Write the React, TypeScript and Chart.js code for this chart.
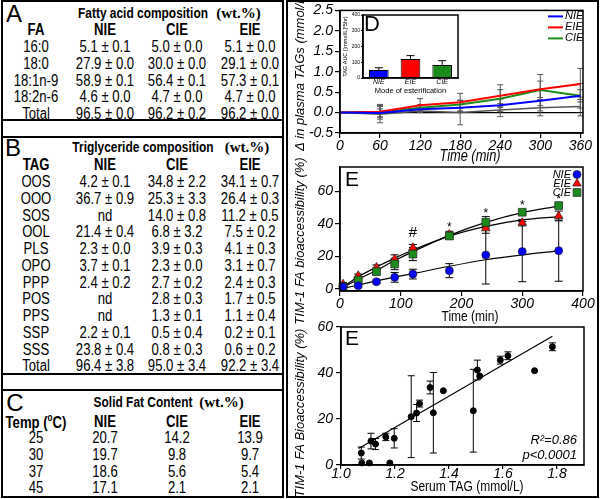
import React, { useEffect, useRef } from 'react';
import { Chart, registerables } from 'chart.js';

Chart.register(...registerables);
Chart.defaults.color = '#000';

// ---------- Table A: fatty acid composition (wt.%) ----------
const faNames = ['16:0', '18:0', '18:1n-9', '18:2n-6', 'Total'];
const faNIE = ['5.1 ± 0.1', '27.9 ± 0.0', '58.9 ± 0.1', '4.6 ± 0.0', '96.5 ± 0.0'];
const faCIE = ['5.0 ± 0.0', '30.0 ± 0.0', '56.4 ± 0.1', '4.7 ± 0.0', '96.2 ± 0.2'];
const faEIE = ['5.1 ± 0.0', '29.1 ± 0.0', '57.3 ± 0.1', '4.7 ± 0.0', '96.2 ± 0.0'];

// ---------- Table B: triglyceride composition (wt.%) ----------
const tagNames = ['OOS', 'OOO', 'SOS', 'OOL', 'PLS', 'OPO', 'PPP', 'POS', 'PPS', 'SSP', 'SSS', 'Total'];
const tagNIE = ['4.2 ± 0.1', '36.7 ± 0.9', 'nd', '21.4 ± 0.4', '2.3 ± 0.0', '3.7 ± 0.1', '2.4 ± 0.2', 'nd', 'nd', '2.2 ± 0.1', '23.8 ± 0.4', '96.4 ± 3.8'];
const tagCIE = ['34.8 ± 2.2', '25.3 ± 3.3', '14.0 ± 0.8', '6.8 ± 3.2', '3.9 ± 0.3', '2.3 ± 0.0', '2.7 ± 0.2', '2.8 ± 0.3', '1.3 ± 0.1', '0.5 ± 0.4', '0.8 ± 0.3', '95.0 ± 3.4'];
const tagEIE = ['34.1 ± 0.7', '26.4 ± 0.3', '11.2 ± 0.5', '7.5 ± 0.2', '4.1 ± 0.3', '3.1 ± 0.7', '2.4 ± 0.3', '1.7 ± 0.5', '1.1 ± 0.4', '0.2 ± 0.1', '0.6 ± 0.2', '92.2 ± 3.4'];

// ---------- Table C: solid fat content (wt.%) ----------
const sfcTemps = ['25', '30', '37', '45'];
const sfcNIE = ['20.7', '19.7', '18.6', '17.1'];
const sfcCIE = ['14.2', '9.8', '5.6', '2.1'];
const sfcEIE = ['13.9', '9.7', '5.4', '2.1'];

// ---------- D: change in plasma TAGs (mmol/L) ----------
const plasmaTime = [0, 60, 120, 180, 240, 300, 360];
const plasmaNIE = [0, -0.01, 0.08, 0.12, 0.18, 0.29, 0.41];
const plasmaEIE = [0, 0.02, 0.18, 0.25, 0.41, 0.57, 0.7];
const plasmaCIE = [0, 0.02, 0.12, 0.2, 0.34, 0.55, 0.41];
const plasmaRef = [0, -0.04, 0.04, 0.0, 0.06, 0.12, 0.15];
const plasmaErrNIE = [0, 0.1, 0.05, 0.08, 0.15, 0.25, 0.3];
const plasmaErrEIE = [0, 0.18, 0.16, 0.22, 0.27, 0.2, 0.38];
const plasmaErrCIE = [0, 0.13, 0.08, 0.1, 0.22, 0.38, 0.15];
const plasmaErrRef = [0, 0.21, 0.04, 0.3, 0.16, 0.2, 0.23];
const plasmaTimeTicks = [0, 60, 120, 180, 240, 300, 360];
const plasmaTicks = [-0.5, 0, 0.5, 1, 1.5, 2, 2.5];

// D inset: TAG AUC by mode of esterification
const aucModes = ['NIE', 'EIE', 'CIE'];
const aucMeans = [51, 121, 83];
const aucErr = [14, 21, 27];
const aucTicks = [0, 100, 200, 300, 400];

// ---------- E: TIM-1 FA bioaccessibility over time ----------
const bioTime = [5, 30, 60, 90, 120, 180, 240, 300, 360];
const bioNIE = [1.4, 2.1, 4.5, 7.2, 9.2, 11.3, 20.9, 23.0, 23.6];
const bioErrNIE = [0.8, 0.8, 1.0, 3.0, 3.0, 4.3, 17.8, 18.5, 18.8];
const bioEIE = [3.0, 8.2, 13.3, 18.5, 25.4, 33.5, 37.3, 40.8, 44.9];
const bioErrEIE = [1.0, 1.0, 1.5, 2.5, 2.0, 2.0, 3.0, 2.0, 3.0];
const bioCIE = [1.5, 5.5, 10.7, 15.4, 21.5, 32.6, 41.0, 47.2, 51.3];
const bioErrCIE = [1.0, 1.0, 1.5, 3.5, 4.0, 2.0, 3.5, 1.0, 1.0];
const fitTime = [0, 30, 60, 90, 120, 180, 240, 300, 360];
const fitNIE = [0, 2.5, 5, 7.3, 9.5, 14, 18, 21, 23.5];
const fitEIE = [0, 7.5, 13.5, 19, 24, 32.5, 38.5, 42.5, 44.5];
const fitCIE = [0, 6, 11.5, 17.5, 23, 33, 41, 47, 51];
const sigMarks = ['#', '*', '*', '*', '*'];
const sigTime = [120, 180, 240, 300, 360];
const sigLevel = [34.3, 39, 47.6, 52.7, 56.4];
const bioTimeTicks = [0, 100, 200, 300, 400];
const bioTicks = [0, 20, 40, 60];

// ---------- E (lower): bioaccessibility vs serum TAG ----------
const serumTag = [1.075, 1.077, 1.105, 1.111, 1.128, 1.166, 1.181, 1.197, 1.26, 1.28, 1.291, 1.33, 1.342, 1.379, 1.49, 1.505, 1.514, 1.59, 1.618, 1.717, 1.783];
const serumBio = [5.2, 0.9, 0.9, 10.4, 9.1, 12.2, 0.9, 11.6, 21, 22.6, 26.7, 33.7, 22.7, 32.3, 23.6, 41.3, 38.7, 45.6, 47.5, 41, 51.4];
const serumErr = [2.6, 0, 0, 3.4, 2.4, 1.6, 0, 4.2, 17.8, 3.7, 1.5, 2.8, 17.5, 0, 18, 4.3, 0, 1.7, 1.7, 0, 1.7];
const regTag = [1.065, 1.783];
const regBio = [7.2, 56];
const serumTicks = [1.0, 1.2, 1.4, 1.6, 1.8];
const serumBioTicks = [0, 20, 40, 60];

const BLUE = '#0000ff';
const RED = '#ff0000';
const GREEN = '#1a8c1a';
const GREY = '#555555';

const SANS = "'Liberation Sans', Arial, sans-serif";
const SERIF = "'Liberation Serif', 'Times New Roman', serif";
const NARROW_X = 0.82; // horizontal squeeze for the condensed sans lettering

const tickFont = { family: SANS, size: 14, style: 'italic' as const };

const pts = (xs: number[], ys: number[]) => xs.map((x, i) => ({ x, y: ys[i] }));
const tickList = (values: number[]) => (scale: any) => {
  scale.ticks = values.map((value) => ({ value }));
};

// box around the plotting area
const framePlugin = (width: number) => ({
  id: 'frame',
  afterDraw(chart: any) {
    const { ctx, chartArea: a } = chart;
    ctx.save();
    ctx.strokeStyle = '#000';
    ctx.lineWidth = width;
    ctx.strokeRect(a.left, a.top, a.right - a.left, a.bottom - a.top);
    ctx.restore();
  },
});

// vertical error bars with caps, read from dataset.errors
const errorBarPlugin = {
  id: 'errorBars',
  beforeDatasetsDraw(chart: any) {
    const { ctx } = chart;
    const yScale = chart.scales.y;
    chart.data.datasets.forEach((ds: any, di: number) => {
      const errs: number[] | undefined = ds.errors;
      if (!errs) return;
      const meta = chart.getDatasetMeta(di);
      const cap = ds.capHalf ?? 3;
      ctx.save();
      ctx.strokeStyle = ds.errorColor ?? '#000';
      ctx.lineWidth = ds.errorWidth ?? 1;
      meta.data.forEach((el: any, i: number) => {
        const e = errs[i];
        if (!e) return;
        const raw = ds.data[i];
        const v = typeof raw === 'number' ? raw : raw.y;
        const x = el.x;
        const top = yScale.getPixelForValue(v + e);
        const bot = yScale.getPixelForValue(ds.upperOnly ? v : v - e);
        ctx.beginPath();
        ctx.moveTo(x, top);
        ctx.lineTo(x, bot);
        ctx.moveTo(x - cap, top);
        ctx.lineTo(x + cap, top);
        if (!ds.upperOnly) {
          ctx.moveTo(x - cap, bot);
          ctx.lineTo(x + cap, bot);
        }
        ctx.stroke();
      });
      ctx.restore();
    });
  },
};

const drawPlugin = (id: string, fn: (chart: any, ctx: CanvasRenderingContext2D) => void) => ({
  id,
  afterDraw(chart: any) {
    const ctx = chart.ctx;
    ctx.save();
    fn(chart, ctx);
    ctx.restore();
  },
});

// axis caption placed relative to the chart area; rotated for y captions
type Caption = { text: string; size: number; italic: boolean; dx: number; dy: number; squeeze: number; vertical?: boolean };
const captionPlugin = (id: string, items: Caption[]) =>
  drawPlugin(id, (chart, ctx) => {
    const a = chart.chartArea;
    items.forEach((c) => {
      ctx.save();
      if (c.vertical) {
        ctx.translate(a.left + c.dx, (a.top + a.bottom) / 2 + c.dy);
        ctx.rotate(-Math.PI / 2);
      } else {
        ctx.translate(a.left + c.dx, a.bottom + c.dy);
      }
      ctx.scale(c.squeeze, 1);
      ctx.font = `${c.italic ? 'italic ' : ''}${c.size}px ${SANS}`;
      ctx.textAlign = 'center';
      ctx.textBaseline = 'middle';
      ctx.fillStyle = '#000';
      ctx.fillText(c.text, 0, 0);
      ctx.restore();
    });
  });

function shape(ctx: CanvasRenderingContext2D, kind: string, x: number, y: number, r: number, fill: string) {
  ctx.beginPath();
  if (kind === 'circle') ctx.arc(x, y, r, 0, Math.PI * 2);
  else if (kind === 'triangle') {
    ctx.moveTo(x, y - r);
    ctx.lineTo(x + r * 0.866, y + r * 0.5);
    ctx.lineTo(x - r * 0.866, y + r * 0.5);
    ctx.closePath();
  } else {
    const s = r * 0.707;
    ctx.rect(x - s, y - s, 2 * s, 2 * s);
  }
  ctx.fillStyle = fill;
  ctx.fill();
  ctx.strokeStyle = '#222';
  ctx.lineWidth = 0.7;
  ctx.stroke();
}

const baseOptions = (padding: any) => ({
  animation: false as const,
  responsive: false,
  devicePixelRatio: 1,
  layout: { padding },
  plugins: { legend: { display: false }, tooltip: { enabled: false } },
});

const axisX = (min: number, max: number, ticks: number[], height: number, extra: any = {}) => ({
  type: 'linear',
  min,
  max,
  afterBuildTicks: tickList(ticks),
  afterFit: (s: any) => { s.height = height; },
  grid: { drawOnChartArea: false, tickLength: 5, color: '#000', lineWidth: 1.2 },
  border: { color: '#000', width: 1.5 },
  ticks: { font: tickFont, padding: 0, maxRotation: 0, autoSkip: false, ...extra },
});

const axisY = (min: number, max: number, ticks: number[], width: number, extra: any = {}) => ({
  min,
  max,
  afterBuildTicks: tickList(ticks),
  afterFit: (s: any) => { s.width = width; },
  grid: { drawOnChartArea: false, tickLength: 5, color: '#000', lineWidth: 1.2 },
  border: { color: '#000', width: 1.5 },
  ticks: { font: tickFont, padding: 2, ...extra },
});

function makePlasma(canvas: HTMLCanvasElement) {
  const lineSet = (label: string, ys: number[], errs: number[], color: string, width: number) => ({
    label,
    data: pts(plasmaTime, ys),
    borderColor: color,
    borderWidth: width,
    pointRadius: 0,
    tension: 0,
    clip: false,
    errors: errs,
    errorColor: '#555',
    capHalf: 3,
  });
  const legend = drawPlugin('plasmaLegend', (chart, ctx) => {
    const a = chart.chartArea;
    ctx.font = `italic 11px ${SANS}`;
    ctx.textBaseline = 'middle';
    [['NIE', BLUE], ['EIE', RED], ['CIE', GREEN]].forEach(([name, color], i) => {
      const y = a.top + 6 + i * 11;
      ctx.strokeStyle = color;
      ctx.lineWidth = 2;
      ctx.beginPath();
      ctx.moveTo(a.right - 35, y);
      ctx.lineTo(a.right - 20, y);
      ctx.stroke();
      ctx.fillStyle = '#000';
      ctx.fillText(name, a.right - 18, y);
    });
  });
  const yScale: any = axisY(-0.5, 2.5, plasmaTicks, 52, { callback: (v: any) => Number(v).toFixed(1) });
  yScale.grid = {
    color: (c: any) => (c.tick && c.tick.value === 0 ? '#000' : 'rgba(0,0,0,0)'),
    tickColor: '#000',
    tickLength: 5,
    lineWidth: 1.2,
  };
  return new Chart(canvas, {
    type: 'line',
    data: {
      datasets: [
        lineSet('NIE', plasmaNIE, plasmaErrNIE, BLUE, 2),
        lineSet('EIE', plasmaEIE, plasmaErrEIE, RED, 2),
        lineSet('CIE', plasmaCIE, plasmaErrCIE, GREEN, 2),
        lineSet('Reference', plasmaRef, plasmaErrRef, GREY, 1.5),
      ] as any,
    },
    options: {
      ...baseOptions({ left: 0, right: 17, top: 10, bottom: 333 }),
      scales: { x: axisX(0, 364, plasmaTimeTicks, 33), y: yScale },
    } as any,
    plugins: [
      errorBarPlugin,
      framePlugin(1.5),
      legend,
      captionPlugin('plasmaCaptions', [
        { text: 'Time (min)', size: 16, italic: true, dx: 130, dy: 24, squeeze: 0.8 },
        { text: 'Δ in plasma TAGs (mmol/L)', size: 13, italic: true, dx: -40, dy: 0, squeeze: 1, vertical: true },
      ]),
    ],
  });
}

function makeAuc(canvas: HTMLCanvasElement) {
  const letter = drawPlugin('aucLetter', (chart, ctx) => {
    const a = chart.chartArea;
    ctx.font = `22px ${SANS}`;
    ctx.textAlign = 'center';
    ctx.textBaseline = 'middle';
    ctx.fillStyle = '#000';
    ctx.fillText('D', a.left + 9, a.top + 10);
  });
  return new Chart(canvas, {
    type: 'bar',
    data: {
      labels: aucModes,
      datasets: [
        {
          data: aucMeans,
          backgroundColor: [BLUE, RED, GREEN],
          borderColor: '#000',
          borderWidth: 1,
          barPercentage: 0.62,
          categoryPercentage: 1,
          errors: aucErr,
          upperOnly: true,
          capHalf: 4,
        },
      ] as any,
    },
    options: {
      ...baseOptions({ left: 0, right: 10, top: 5, bottom: 3 }),
      scales: {
        x: {
          afterFit: (s: any) => { s.height = 17; },
          grid: { display: false, drawTicks: false },
          border: { color: '#000', width: 1.5 },
          ticks: { font: { family: SANS, size: 7, style: 'italic' }, padding: 0 },
          title: { display: true, text: 'Mode of esterification', font: { family: SANS, size: 7.5 }, padding: 0 },
        },
        y: {
          min: 0,
          max: 400,
          afterBuildTicks: tickList(aucTicks),
          afterFit: (s: any) => { s.width = 25; },
          grid: { drawOnChartArea: false, tickLength: 2, color: '#000' },
          border: { color: '#000', width: 1.5 },
          ticks: { font: { family: SANS, size: 5 }, padding: 1 },
          title: { display: true, text: 'TAG AUC ([mmol/L]*5hr)', font: { family: SANS, size: 5.5 }, padding: { top: 4.5, bottom: 0 } },
        },
      },
    } as any,
    plugins: [errorBarPlugin, framePlugin(1.5), letter],
  });
}

function makeBio(canvas: HTMLCanvasElement) {
  const markerSet = (label: string, ys: number[], errs: number[], style: string, r: number, color: string) => ({
    label,
    data: pts(bioTime, ys),
    showLine: false,
    pointStyle: style,
    pointRadius: r,
    pointBackgroundColor: color,
    pointBorderColor: '#222',
    pointBorderWidth: 0.7,
    clip: false,
    errors: errs,
    capHalf: 4,
  });
  const fitSet = (ys: number[]) => ({
    data: pts(fitTime, ys),
    borderColor: '#000',
    borderWidth: 1.2,
    pointRadius: 0,
    cubicInterpolationMode: 'monotone',
    clip: false,
  });
  const notes = drawPlugin('bioNotes', (chart, ctx) => {
    const a = chart.chartArea;
    const xs = chart.scales.x;
    const ys = chart.scales.y;
    ctx.fillStyle = '#000';
    ctx.textAlign = 'center';
    ctx.textBaseline = 'middle';
    ctx.font = `21px ${SANS}`;
    ctx.fillText('E', a.left + 12, a.top + 13.5);
    sigMarks.forEach((m, i) => {
      ctx.font = m === '#' ? `15px ${SANS}` : `12px ${SANS}`;
      ctx.fillText(m, xs.getPixelForValue(sigTime[i]), ys.getPixelForValue(sigLevel[i]) + (m === '*' ? 2 : 0));
    });
    ctx.font = `italic 11px ${SANS}`;
    ctx.textAlign = 'right';
    [['NIE', 'circle', BLUE, 4], ['EIE', 'triangle', RED, 5], ['CIE', 'rect', GREEN, 5.5]].forEach(
      ([name, kind, color, r]: any, i) => {
        const y = a.top + 7.5 + i * 9;
        ctx.fillStyle = '#000';
        ctx.fillText(name, a.right - 12, y);
        shape(ctx, kind, a.right - 6, y, r, color);
      },
    );
  });
  return new Chart(canvas, {
    type: 'line',
    data: {
      datasets: [
        markerSet('NIE', bioNIE, bioErrNIE, 'circle', 4, BLUE),
        markerSet('CIE', bioCIE, bioErrCIE, 'rect', 5.5, GREEN),
        markerSet('EIE', bioEIE, bioErrEIE, 'triangle', 5, RED),
        fitSet(fitNIE),
        fitSet(fitEIE),
        fitSet(fitCIE),
      ] as any,
    },
    options: {
      ...baseOptions({ left: 0, right: 17, top: 167, bottom: 174 }),
      scales: {
        x: axisX(0, 400, bioTimeTicks, 34),
        y: axisY(-1.2, 75, bioTicks, 52),
      },
    } as any,
    plugins: [
      errorBarPlugin,
      framePlugin(1.5),
      notes,
      captionPlugin('bioCaptions', [
        { text: 'Time (min)', size: 15, italic: false, dx: 130, dy: 25.7, squeeze: 0.8 },
        { text: 'TIM-1 FA bioaccessibility (%)', size: 13, italic: true, dx: -40, dy: 12, squeeze: 1, vertical: true },
      ]),
    ],
  });
}

function makeSerum(canvas: HTMLCanvasElement) {
  const notes = drawPlugin('serumNotes', (chart, ctx) => {
    const a = chart.chartArea;
    ctx.fillStyle = '#000';
    ctx.textAlign = 'center';
    ctx.textBaseline = 'middle';
    ctx.font = `21px ${SANS}`;
    ctx.fillText('E', a.left + 11, a.top + 12);
    ctx.font = `italic 13px ${SANS}`;
    ctx.textAlign = 'right';
    ctx.fillText('R²=0.86', a.right - 7, a.bottom - 25);
    ctx.fillText('p<0.0001', a.right - 7, a.bottom - 10);
  });
  const xScale: any = axisX(1.0, 1.9, serumTicks, 31, { padding: -3, callback: (v: any) => Number(v).toFixed(1) });
  xScale.grid = { ...xScale.grid, tickLength: 4 };
  return new Chart(canvas, {
    type: 'scatter',
    data: {
      datasets: [
        {
          data: pts(serumTag, serumBio),
          pointRadius: 3,
          pointBackgroundColor: '#000',
          pointBorderColor: '#000',
          clip: false,
          errors: serumErr,
          capHalf: 3.5,
        },
        {
          data: pts(regTag, regBio),
          showLine: true,
          borderColor: '#000',
          borderWidth: 1.2,
          pointRadius: 0,
        },
      ] as any,
    },
    options: {
      ...baseOptions({ left: 0, right: 16, top: 327, bottom: 3 }),
      scales: {
        x: xScale,
        y: axisY(0, 60, serumBioTicks, 53, { padding: 3 }),
      },
    } as any,
    plugins: [
      errorBarPlugin,
      framePlugin(1.5),
      notes,
      captionPlugin('serumCaptions', [
        { text: 'Serum TAG (mmol/L)', size: 15, italic: false, dx: 126, dy: 21.5, squeeze: 0.8 },
        { text: 'TIM-1 FA Bioaccessibility (%)', size: 13, italic: true, dx: -41, dy: 17, squeeze: 1, vertical: true },
      ]),
    ],
  });
}

// ---------- tables ----------
const COL_X = [36, 105, 177, 250];
const ROW = 16.75;
const cellFont: React.CSSProperties = { fontFamily: SANS, fontSize: 16 };
const headFont: React.CSSProperties = { fontFamily: SANS, fontSize: 16, fontWeight: 'bold' };

function T({ x, y, sx = 1, style, children }: { x: number; y: number; sx?: number; style?: React.CSSProperties; children: React.ReactNode }) {
  return (
    <div
      style={{
        position: 'absolute',
        left: x,
        top: y,
        transform: `translate(-50%, -50%) scaleX(${sx})`,
        whiteSpace: 'nowrap',
        lineHeight: 1,
        ...style,
      }}
    >
      {children}
    </div>
  );
}

function Title({ y, text, textX, unitX }: { y: number; text: string; textX: number; unitX: number }) {
  return (
    <>
      <T x={textX} y={y} sx={0.77} style={{ fontFamily: SANS, fontSize: 15.5, fontWeight: 'bold' }}>{text}</T>
      <T x={unitX} y={y} style={{ fontFamily: SERIF, fontSize: 15, fontWeight: 'bold' }}>(wt.%)</T>
    </>
  );
}

function Rows({ names, cols, y0 }: { names: string[]; cols: string[][]; y0: number }) {
  return (
    <>
      {names.map((n, i) => (
        <React.Fragment key={n + i}>
          <T x={COL_X[0]} y={y0 + i * ROW} sx={NARROW_X} style={cellFont}>{n}</T>
          {cols.map((c, j) => (
            <T key={j} x={COL_X[j + 1]} y={y0 + i * ROW} sx={NARROW_X} style={cellFont}>{c[i]}</T>
          ))}
        </React.Fragment>
      ))}
    </>
  );
}

function Header({ first, y }: { first: React.ReactNode; y: number }) {
  return (
    <>
      <T x={COL_X[0]} y={y} sx={NARROW_X} style={headFont}>{first}</T>
      {['NIE', 'CIE', 'EIE'].map((h, j) => (
        <T key={h} x={COL_X[j + 1]} y={y} sx={NARROW_X} style={headFont}>{h}</T>
      ))}
    </>
  );
}

const hLine = (top: number, left: number, width: number) => (
  <div style={{ position: 'absolute', left, top, width, height: 2, background: '#000' }} />
);

export default function App() {
  const plasmaRef = useRef<HTMLCanvasElement>(null);
  const aucRef = useRef<HTMLCanvasElement>(null);
  const bioRef = useRef<HTMLCanvasElement>(null);
  const serumRef = useRef<HTMLCanvasElement>(null);

  useEffect(() => {
    const charts = [
      makePlasma(plasmaRef.current!),
      makeBio(bioRef.current!),
      makeSerum(serumRef.current!),
      makeAuc(aucRef.current!),
    ];
    return () => charts.forEach((c) => c.destroy());
  }, []);

  const panelCanvas: React.CSSProperties = { position: 'absolute', left: 288, top: 0, width: 312, height: 499 };

  return (
    <div
      style={{
        position: 'fixed',
        left: 0,
        top: 0,
        width: 600,
        height: 499,
        background: '#fff',
        overflow: 'hidden',
        color: '#000',
        fontFamily: SANS,
      }}
    >
      {/* left column frame with section dividers */}
      <div style={{ position: 'absolute', left: 1, top: 0, width: 283, height: 498, border: '2px solid #000', boxSizing: 'border-box' }} />
      {hLine(119, 1, 283)}
      {hLine(136, 1, 283)}
      {hLine(373, 1, 283)}
      {hLine(389, 1, 283)}
      {/* right column frame */}
      <div style={{ position: 'absolute', left: 286, top: 0, width: 313, height: 498, border: '2px solid #000', boxSizing: 'border-box' }} />

      {/* A */}
      <T x={14} y={14} style={{ fontSize: 24 }}>A</T>
      <Title y={13} text="Fatty acid composition" textX={142.5} unitX={238.5} />
      <Header first="FA" y={30} />
      <Rows names={faNames} cols={[faNIE, faCIE, faEIE]} y0={47} />

      {/* B */}
      <T x={13} y={148} style={{ fontSize: 24 }}>B</T>
      <Title y={147} text="Triglyceride composition" textX={143} unitX={247} />
      <Header first="TAG" y={165} />
      <Rows names={tagNames} cols={[tagNIE, tagCIE, tagEIE]} y0={182} />

      {/* C */}
      <T x={15} y={403} style={{ fontSize: 24 }}>C</T>
      <Title y={402} text="Solid Fat Content" textX={142.5} unitX={221.5} />
      <Header first={<>Temp (<sup style={{ fontSize: 10 }}>o</sup>C)</>} y={421.7} />
      <Rows names={sfcTemps} cols={[sfcNIE, sfcCIE, sfcEIE]} y0={438} />

      <canvas ref={plasmaRef} width={312} height={499} style={panelCanvas} />
      <canvas ref={bioRef} width={312} height={499} style={panelCanvas} />
      <canvas ref={serumRef} width={312} height={499} style={panelCanvas} />
      <canvas ref={aucRef} width={130} height={88} style={{ position: 'absolute', left: 338, top: 10, width: 130, height: 88 }} />
    </div>
  );
}
